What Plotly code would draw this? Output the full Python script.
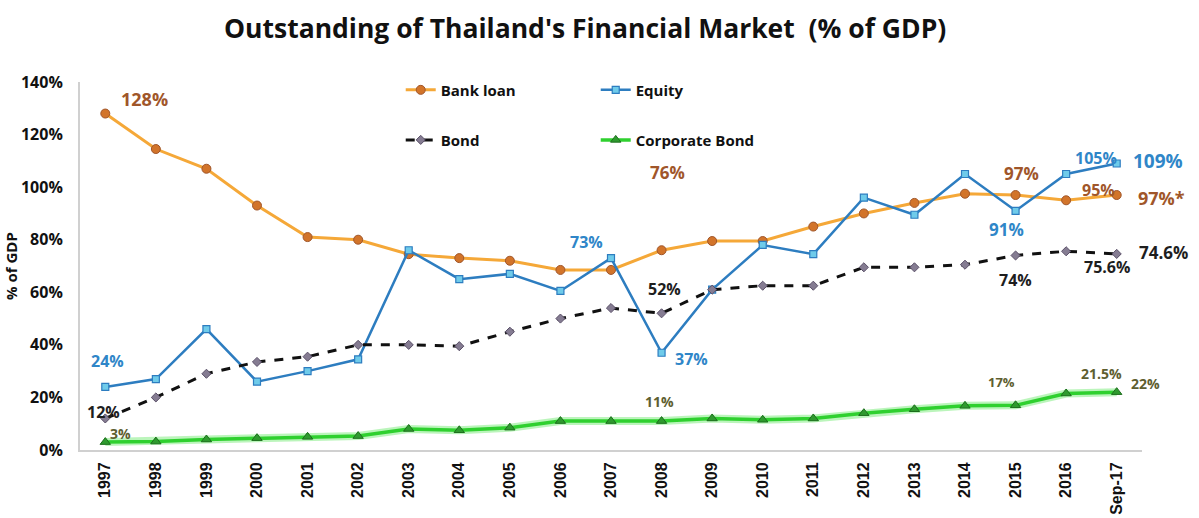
import plotly.graph_objects as go

years = ["1997", "1998", "1999", "2000", "2001", "2002", "2003", "2004", "2005", "2006",
         "2007", "2008", "2009", "2010", "2011", "2012", "2013", "2014", "2015", "2016", "Sep-17"]

bank_loan = [128, 114.5, 107, 93, 81, 80, 74.5, 73, 72, 68.5,
             68.5, 76, 79.5, 79.5, 85, 90, 94, 97.5, 97, 95, 97]
equity = [24, 27, 46, 26, 30, 34.5, 76, 65, 67, 60.5,
          73, 37, 61, 78, 74.5, 96, 89.5, 105, 91, 105, 109]
bond = [12, 20, 29, 33.5, 35.5, 40, 40, 39.5, 45, 50,
        54, 52, 61, 62.5, 62.5, 69.5, 69.5, 70.5, 74, 75.6, 74.6]
corp_bond = [3, 3.2, 4, 4.5, 5, 5.3, 8, 7.5, 8.5, 11,
             11, 11, 12, 11.5, 12, 14, 15.5, 16.8, 17, 21.5, 22]

y_ticks = [0, 20, 40, 60, 80, 100, 120, 140]
y_tick_text = [f"{v}%" for v in y_ticks]

# numeric positions for the year categories
xpos = list(range(len(years)))

BROWN = "#A0562A"
BLUE = "#2F86C8"
DARK = "#1E1E1E"
OLIVE = "#5E5E30"
FONT = "Open Sans"

fig = go.Figure()

# soft halo under the corporate bond line
fig.add_trace(go.Scatter(x=xpos, y=corp_bond, mode="lines",
                         line=dict(color="rgba(120,235,120,0.5)", width=8),
                         showlegend=False, hoverinfo="skip"))

fig.add_trace(go.Scatter(x=xpos, y=bank_loan, name="<b>Bank loan</b>", mode="lines+markers",
                         line=dict(color="#F5A838", width=3),
                         marker=dict(symbol="circle", size=9, color="#D2742A",
                                     line=dict(color="#A0562A", width=1)),
                         legend="legend"))
fig.add_trace(go.Scatter(x=xpos, y=equity, name="<b>Equity</b>", mode="lines+markers",
                         line=dict(color="#2D7DC0", width=2.5),
                         marker=dict(symbol="square", size=7, color="#6FCBEA",
                                     line=dict(color="#2D7DC0", width=1.2)),
                         legend="legend"))
fig.add_trace(go.Scatter(x=xpos, y=bond, name="<b>Bond</b>", mode="lines+markers",
                         line=dict(color="#111111", width=3, dash="dash"),
                         marker=dict(symbol="diamond", size=7, color="#857C92",
                                     line=dict(color="#5A5068", width=1)),
                         legend="legend2"))
fig.add_trace(go.Scatter(x=xpos, y=corp_bond, name="<b>Corporate Bond</b>", mode="lines+markers",
                         line=dict(color="#2FD02F", width=3.5),
                         marker=dict(symbol="triangle-up", size=9, color="#2E9A2E",
                                     line=dict(color="#1C6E1C", width=1)),
                         legend="legend2"))

# value labels: (series values, year, text, colour, size, xshift, yshift)
labels = [
    (bank_loan, "1997", "128%", BROWN, 18, 39, 15),
    (equity, "1997", "24%", BLUE, 16, 2, 26),
    (bond, "1997", "12%", DARK, 16, -2, 6),
    (corp_bond, "1997", "3%", OLIVE, 14, 15, 9),
    (equity, "2007", "73%", BLUE, 16, -25, 16),
    (bank_loan, "2008", "76%", BROWN, 17, 6, 78),
    (bond, "2008", "52%", DARK, 16, 3, 24),
    (equity, "2008", "37%", BLUE, 16, 30, -6),
    (corp_bond, "2008", "11%", OLIVE, 14, -2, 20),
    (bank_loan, "2015", "97%", BROWN, 17, 6, 22),
    (equity, "2015", "91%", BLUE, 17, -9, -19),
    (bond, "2015", "74%", DARK, 16, 0, -25),
    (corp_bond, "2015", "17%", OLIVE, 13, -14, 23),
    (equity, "2016", "105%", BLUE, 16, 30, 16),
    (equity, "Sep-17", "109%", BLUE, 19, 41, 2),
    (bank_loan, "2016", "95%", BROWN, 16, 32, 10),
    (bank_loan, "Sep-17", "97%*", BROWN, 18, 45, -3),
    (bond, "2016", "75.6%", DARK, 16, 41, -16),
    (bond, "Sep-17", "74.6%", DARK, 17, 47, 1),
    (corp_bond, "2016", "21.5%", OLIVE, 14, 35, 20),
    (corp_bond, "Sep-17", "22%", OLIVE, 14, 29, 9),
]
for series, yr, txt, col, size, dx, dy in labels:
    i = years.index(yr)
    fig.add_annotation(x=xpos[i], y=series[i], text=f"<b>{txt}</b>",
                       showarrow=False, xshift=dx, yshift=dy,
                       font=dict(family=FONT, size=size, color=col))

legend_style = dict(orientation="h", x=0.302, xanchor="left", yanchor="middle",
                    entrywidth=150, entrywidthmode="pixels", itemwidth=30,
                    bgcolor="rgba(0,0,0,0)",
                    font=dict(family=FONT, size=15, color="#111111"))

fig.update_layout(
    width=1199, height=518,
    margin=dict(l=80, r=57, t=82, b=68),
    paper_bgcolor="white", plot_bgcolor="white",
    title=dict(text="<b>Outstanding of Thailand's Financial Market  (% of GDP)</b>",
               x=0.488, xanchor="center", y=0.945, yanchor="middle",
               font=dict(family=FONT, size=26.5, color="#111111")),
    legend=dict(legend_style, y=0.978),
    legend2=dict(legend_style, y=0.842),
    xaxis=dict(range=[-0.5, len(years) - 0.5], tickvals=xpos,
               ticktext=[f"<b>{y}</b>" for y in years],
               showgrid=False, zeroline=False, automargin=False,
               showline=True, linecolor="#D0D0D0", linewidth=2,
               tickangle=-90, ticks="", ticklabelstandoff=4,
               tickfont=dict(family="Liberation Sans", size=16, color="#111111")),
    yaxis=dict(range=[0, 140], tickvals=y_ticks, ticktext=[f"<b>{t}</b>" for t in y_tick_text],
               showgrid=False, zeroline=False, showline=True, linecolor="#D0D0D0",
               linewidth=2, ticks="", ticklabelstandoff=12, automargin=False,
               tickfont=dict(family=FONT, size=16, color="#111111"),
               title=dict(text="<b>% of GDP</b>", standoff=0,
                          font=dict(family=FONT, size=15, color="#111111"))),
)

fig.write_html("out.html")
